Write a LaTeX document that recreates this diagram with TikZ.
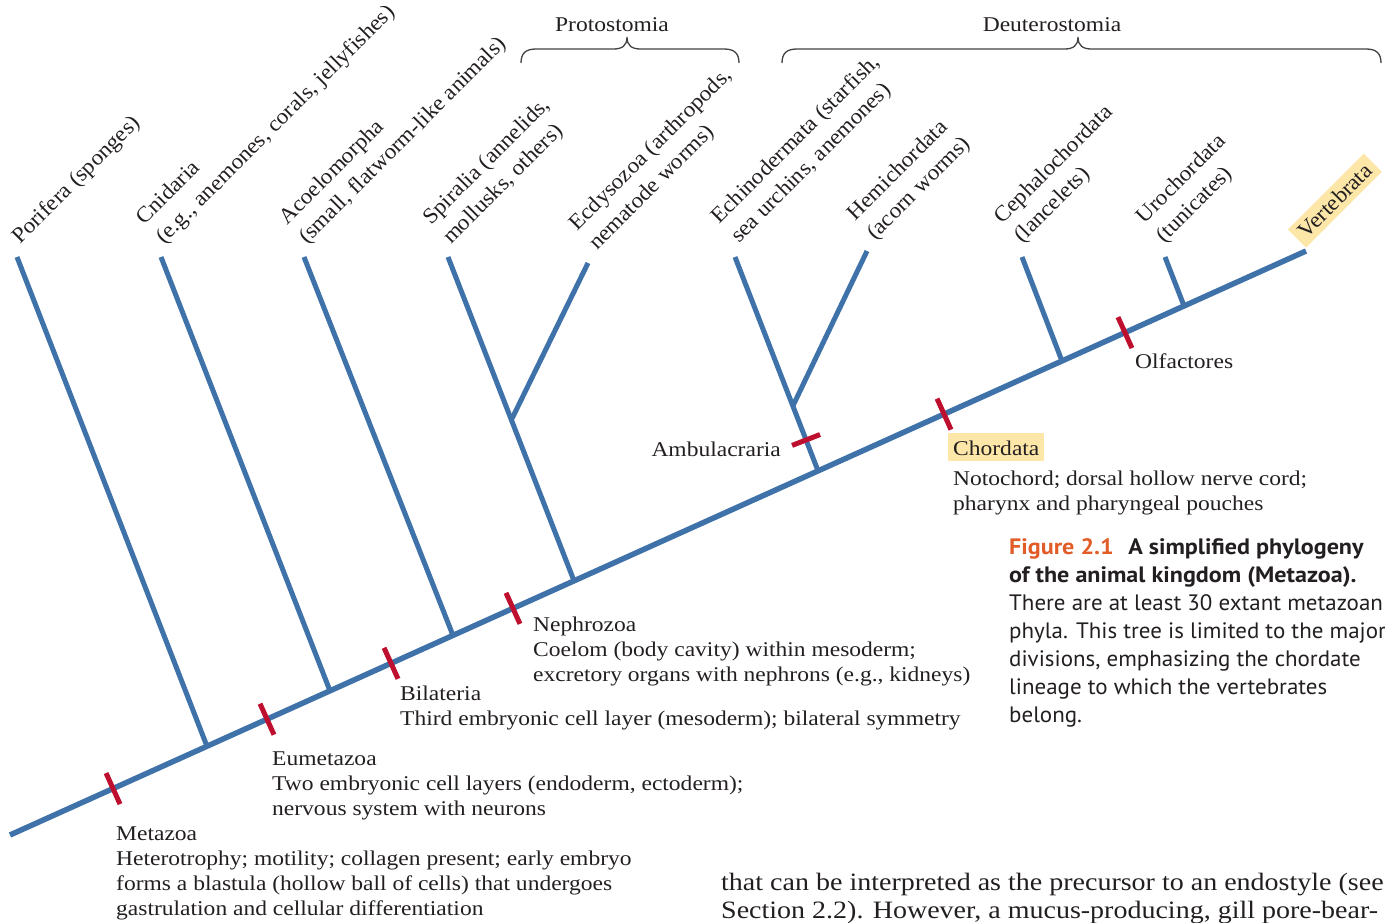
\documentclass[tikz,border=0pt]{standalone}
\usepackage{fontspec}
\setmainfont{Liberation Serif}
\newfontfamily\labelfont[FakeStretch=1.12]{Liberation Serif}
\newfontfamily\cladefont[FakeStretch=1.055]{Liberation Serif}
\newfontfamily\capfont[FakeStretch=1.03, BoldFeatures={FakeStretch=1.08}]{PT Sans}
\usetikzlibrary{calc}

\definecolor{lineageblue}{RGB}{62,114,168}
\definecolor{traitred}{RGB}{190,16,46}
\definecolor{highlight}{RGB}{252,231,168}
\definecolor{figorange}{RGB}{226,92,40}
\definecolor{ink}{RGB}{35,31,32}

% multi-line nodes below are placed by the baseline of their last line
\tikzset{
  lineage/.style={draw=lineageblue, line width=5pt},
  stem/.style={draw=lineageblue, line width=5.5pt},
  marker/.style={draw=traitred, line width=5pt},
  bracket/.style={draw=ink!85, line width=1.3pt},
  clade/.style={rotate=45, anchor=base west, inner sep=0pt, align=left, text=ink,
    font={\cladefont\fontsize{22}{27.6}\selectfont}},
  trait/.style={anchor=base west, inner sep=0pt, align=left, text=ink,
    font={\labelfont\fontsize{21}{25.2}\selectfont}},
  group/.style={anchor=base, inner sep=0pt, text=ink,
    font={\labelfont\fontsize{21}{25.2}\selectfont}},
  caption/.style={anchor=base west, inner sep=0pt, align=left, text=ink,
    font={\capfont\fontsize{22.3}{28}\selectfont}},
  bodytext/.style={anchor=base west, inner sep=0pt, align=left, text=ink,
    font={\labelfont\fontsize{25}{28}\selectfont}}
}

\begin{document}
\begin{tikzpicture}[x=1pt, y=-1pt]
\useasboundingbox (0,0) rectangle (1385,922);

% main stem, from the root to the vertebrate tip
\coordinate (root) at (10,835);
\coordinate (vtip) at (1306,251);

% branching points on the stem
\coordinate (j1) at ($(root)!0.1520!(vtip)$);
\coordinate (j2) at ($(root)!0.2469!(vtip)$);
\coordinate (j3) at ($(root)!0.3418!(vtip)$);
\coordinate (j4) at ($(root)!0.4352!(vtip)$);
\coordinate (j5) at ($(root)!0.6235!(vtip)$);
\coordinate (j6) at ($(root)!0.8117!(vtip)$);
\coordinate (j7) at ($(root)!0.9059!(vtip)$);

% branch tips
\coordinate (t1) at (17,257);
\coordinate (t2) at (161,257);
\coordinate (t3) at (304,257);
\coordinate (t4) at (448,257);
\coordinate (t5) at (588,263);
\coordinate (t6) at (735,257);
\coordinate (t7) at (867,251);
\coordinate (t8) at (1022,257);
\coordinate (t9) at (1165,257);

% side branching points
\coordinate (s1) at ($(t4)!0.503!(j4)$);
\coordinate (s2) at ($(t6)!0.6966!(j5)$);

% branches
\draw[lineage] (t1) -- (j1);
\draw[lineage] (t2) -- (j2);
\draw[lineage] (t3) -- (j3);
\draw[lineage] (t4) -- (j4);
\draw[lineage] (t5) -- (s1);
\draw[lineage] (t6) -- (j5);
\draw[lineage] (t7) -- (s2);
\draw[lineage] (t8) -- (j6);
\draw[lineage] (t9) -- (j7);
\draw[stem] (root) -- (vtip);

% trait markers
\coordinate (m1) at ($(root)!0.0795!(vtip)$);
\coordinate (m2) at ($(root)!0.1983!(vtip)$);
\coordinate (m3) at ($(root)!0.2940!(vtip)$);
\coordinate (m4) at ($(root)!0.3881!(vtip)$);
\coordinate (m5) at ($(root)!0.7207!(vtip)$);
\coordinate (m6) at ($(root)!0.8603!(vtip)$);
\coordinate (ma) at ($(t6)!0.8555!(j5)$);
\foreach \m in {m1,m2,m3,m4,m5,m6}
  \draw[marker] ($(\m)!17pt!90:(vtip)$) -- ($(\m)!17pt!-90:(vtip)$);
\draw[marker] ($(ma)!15pt!90:(t6)$) -- ($(ma)!15pt!-90:(t6)$);

% clade names
\node[clade] (porifera) at (20,245) {Porifera (sponges)};
\node[clade] (cnidaria) at (164,245) {Cnidaria\\(e.g., anemones, corals, jellyfishes)};
\node[clade] (acoelo) at (307,245) {Acoelomorpha\\(small, flatworm-like animals)};
\node[clade] (spiralia) at (451,245) {Spiralia (annelids,\\mollusks, others)};
\node[clade] (ecdyso) at (597,251) {Ecdysozoa (arthropods,\\nematode worms)};
\node[clade] (echino) at (739,244) {Echinodermata (starfish,\\sea urchins, anemones)};
\node[clade] (hemi) at (875,241) {Hemichordata\\(acorn worms)};
\node[clade] (cephalo) at (1022,244) {Cephalochordata\\(lancelets)};
\node[clade] (uro) at (1164,244) {Urochordata\\(tunicates)};
\node[clade, fill=highlight, inner xsep=6pt, inner ysep=5pt] (verte) at (1302,244) {Vertebrata};

% braces over the two groups
\draw[bracket] (521,63) .. controls (521,53) and (526,49) .. (536,49) -- (613,49)
  .. controls (622,49) and (627,46) .. (627,37) .. controls (627,46) and (632,49) .. (641,49)
  -- (724,49) .. controls (734,49) and (739,53) .. (739,63);
\draw[bracket] (782,63) .. controls (782,53) and (787,49) .. (797,49) -- (1064,49)
  .. controls (1073,49) and (1078,46) .. (1078,37) .. controls (1078,46) and (1083,49) .. (1092,49)
  -- (1366,49) .. controls (1376,49) and (1381,53) .. (1381,63);
\node[group] (proto) at (612,31) {Protostomia};
\node[group] (deutero) at (1052,31) {Deuterostomia};

% shared derived traits
\node[trait] (metazoa) at (116,915.6) {Metazoa\\Heterotrophy; motility; collagen present; early embryo\\forms a blastula (hollow ball of cells) that undergoes\\gastrulation and cellular differentiation};
\node[trait] (eumeta) at (272,815.4) {Eumetazoa\\Two embryonic cell layers (endoderm, ectoderm);\\nervous system with neurons};
\node[trait] (bilat) at (400,725.2) {Bilateria\\Third embryonic cell layer (mesoderm); bilateral symmetry};
\node[trait] (nephro) at (533,681.4) {Nephrozoa\\Coelom (body cavity) within mesoderm;\\excretory organs with nephrons (e.g., kidneys)};
\node[trait, anchor=base east] (ambul) at (781,456) {Ambulacraria};
\node[trait, fill=highlight, inner xsep=5pt, inner ysep=5pt, text height=17pt, text depth=1pt] (chord) at (948,455) {Chordata};
\node[trait] (chorddesc) at (953,510.2) {Notochord; dorsal hollow nerve cord;\\pharynx and pharyngeal pouches};
\node[trait] (olfac) at (1135,368) {Olfactores};

% figure legend
\node[caption] (legend) at (1009,722) {{\bfseries\color{figorange}Figure 2.1}\hspace{0.65em}\textbf{A simplified phylogeny}\\
\textbf{of the animal kingdom (Metazoa).}\\
There are at least 30 extant metazoan\\
phyla. This tree is limited to the major\\
divisions, emphasizing the chordate\\
lineage to which the vertebrates\\
belong.};

% running text of the page
\node[bodytext] (running) at (721,918) {that can be interpreted as the precursor to an endostyle (see\\
Section 2.2). However, a mucus-producing, gill pore-bear-};
\end{tikzpicture}
\end{document}
